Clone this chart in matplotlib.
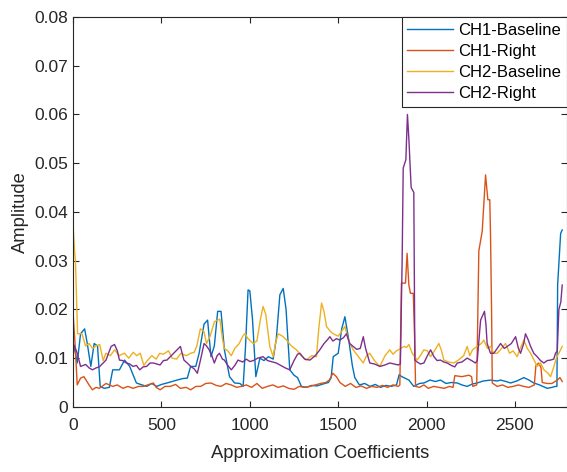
import numpy as np
import matplotlib
matplotlib.use('Agg')
import matplotlib.pyplot as plt

plt.rcParams['font.family'] = ['Liberation Sans', 'DejaVu Sans']

# CH1-Baseline
ch1_base_x = [0, 13, 23, 42, 65, 80, 100, 119, 138, 153, 176, 205, 224, 262, 291, 320, 358, 390, 416, 445,
              473, 500, 531, 560, 588, 620, 646, 665, 694, 713, 741, 761, 780, 799, 818, 837, 856, 885, 914, 944,
              962, 975, 990, 1000, 1015, 1034, 1057, 1080, 1105, 1132, 1150, 1170, 1189, 1205, 1226, 1250, 1270,
              1292, 1320, 1350, 1380, 1415, 1445, 1460, 1472, 1500, 1520, 1538, 1560, 1580, 1594, 1620, 1650,
              1680, 1710, 1740, 1770, 1800, 1830, 1845, 1860, 1872, 1900, 1928, 1960, 1985, 2020, 2050, 2079,
              2110, 2140, 2174, 2200, 2230, 2260, 2287, 2320, 2362, 2400, 2419, 2450, 2476, 2510, 2551, 2580,
              2607, 2640, 2683, 2710, 2730, 2738, 2742, 2759, 2768]
ch1_base_y = [0.013, 0.011, 0.009, 0.015, 0.016, 0.013, 0.0083, 0.013, 0.0125, 0.0042, 0.0038, 0.0040, 0.0076,
              0.0076, 0.0096, 0.0083, 0.0049, 0.0045, 0.0042, 0.0048, 0.0042, 0.0046, 0.0049, 0.0052, 0.0055,
              0.0058, 0.0059, 0.0083, 0.0083, 0.011, 0.017, 0.0178, 0.0103, 0.0125, 0.0196, 0.0196, 0.0117,
              0.0062, 0.0049, 0.0048, 0.0042, 0.012, 0.024, 0.0238, 0.018, 0.0062, 0.0100, 0.0095, 0.0103,
              0.0098, 0.014, 0.023, 0.0243, 0.020, 0.0076, 0.0065, 0.0060, 0.0042, 0.0040, 0.0044, 0.0043,
              0.0047, 0.0050, 0.0060, 0.0103, 0.011, 0.016, 0.0185, 0.0137, 0.0085, 0.0060, 0.0045, 0.0048,
              0.0042, 0.0046, 0.0040, 0.0044, 0.0042, 0.0045, 0.0066, 0.0062, 0.0060, 0.0055, 0.0042, 0.0048,
              0.0049, 0.0055, 0.0052, 0.0055, 0.0048, 0.0050, 0.0049, 0.0045, 0.0042, 0.0047, 0.0049, 0.0053,
              0.0055, 0.0053, 0.0055, 0.0052, 0.0049, 0.0053, 0.0060, 0.0055, 0.0049, 0.0045, 0.0038, 0.0040,
              0.0042, 0.0042, 0.025, 0.0356, 0.0363]

# CH1-Right
ch1_right_x = [0, 13, 23, 42, 61, 90, 109, 130, 148, 186, 224, 250, 282, 310, 339, 370, 397, 430, 454, 470,
               492, 520, 550, 580, 607, 640, 665, 695, 722, 750, 780, 810, 837, 865, 895, 925, 952, 980, 1010,
               1040, 1070, 1100, 1130, 1160, 1190, 1220, 1250, 1280, 1310, 1340, 1370, 1400, 1430, 1450, 1470,
               1490, 1510, 1540, 1570, 1600, 1630, 1660, 1690, 1720, 1750, 1780, 1810, 1840, 1849, 1858, 1881,
               1890, 1900, 1909, 1925, 1932, 1938, 1960, 1985, 2010, 2040, 2070, 2100, 2130, 2150, 2160, 2200,
               2240, 2255, 2262, 2284, 2296, 2315, 2325, 2334, 2347, 2358, 2362, 2368, 2372, 2400, 2430, 2460,
               2490, 2520, 2550, 2580, 2610, 2619, 2635, 2648, 2655, 2683, 2710, 2740, 2755, 2768]
ch1_right_y = [0.019, 0.0117, 0.0045, 0.0059, 0.0062, 0.0045, 0.0035, 0.0040, 0.0038, 0.0048, 0.0042, 0.0045,
               0.0038, 0.0042, 0.0038, 0.0042, 0.0042, 0.0046, 0.0049, 0.0040, 0.0035, 0.0042, 0.0042, 0.0046,
               0.0038, 0.0040, 0.0035, 0.0042, 0.0042, 0.0048, 0.0049, 0.0044, 0.0042, 0.0048, 0.0045, 0.0040,
               0.0042, 0.0045, 0.0040, 0.0048, 0.0038, 0.0042, 0.0045, 0.0040, 0.0043, 0.0038, 0.0036, 0.0042,
               0.0040, 0.0042, 0.0045, 0.0048, 0.0050, 0.0055, 0.0069, 0.0062, 0.0050, 0.0042, 0.0048, 0.0040,
               0.0043, 0.0038, 0.0042, 0.0040, 0.0044, 0.0040, 0.0045, 0.0042, 0.0045, 0.0254, 0.0254, 0.0315,
               0.025, 0.0233, 0.0233, 0.015, 0.0042, 0.0040, 0.0045, 0.0038, 0.0042, 0.0040, 0.0038, 0.0042,
               0.0040, 0.0064, 0.0062, 0.0065, 0.0062, 0.0042, 0.0045, 0.032, 0.036, 0.042, 0.0476, 0.0425,
               0.0425, 0.0356, 0.020, 0.0049, 0.0042, 0.0045, 0.0040, 0.0042, 0.0045, 0.0042, 0.0040, 0.0045,
               0.0085, 0.0090, 0.0080, 0.0050, 0.0048, 0.0048, 0.0055, 0.0060, 0.0052]

# CH2-Baseline
ch2_base_x = [0, 8, 13, 25, 50, 70, 90, 110, 130, 150, 170, 185, 210, 235, 260, 290, 315, 340, 360, 380, 400,
              420, 445, 470, 490, 510, 540, 560, 585, 610, 640, 665, 685, 700, 720, 740, 755, 775, 800, 830, 845,
              855, 875, 895, 915, 940, 960, 972, 990, 1019, 1040, 1060, 1075, 1090, 1113, 1132, 1145, 1160, 1185,
              1208, 1235, 1264, 1290, 1320, 1350, 1377, 1390, 1406, 1420, 1434, 1455, 1472, 1500, 1520, 1538,
              1560, 1585, 1610, 1642, 1660, 1679, 1705, 1736, 1765, 1792, 1810, 1830, 1855, 1872, 1887, 1900,
              1919, 1947, 1965, 1985, 2005, 2023, 2045, 2070, 2085, 2098, 2125, 2155, 2180, 2210, 2230, 2245,
              2260, 2290, 2310, 2324, 2345, 2362, 2380, 2400, 2425, 2447, 2470, 2490, 2513, 2530, 2551, 2570,
              2589, 2610, 2626, 2645, 2664, 2685, 2702, 2721, 2735, 2749, 2768]
ch2_base_y = [0.037, 0.032, 0.030, 0.015, 0.015, 0.0125, 0.013, 0.012, 0.0125, 0.0128, 0.0095, 0.011, 0.0105,
              0.0117, 0.0105, 0.011, 0.0100, 0.0112, 0.0105, 0.0110, 0.0085, 0.0095, 0.0105, 0.0098, 0.011,
              0.0108, 0.0115, 0.0100, 0.0098, 0.011, 0.0105, 0.0110, 0.0112, 0.0125, 0.016, 0.0155, 0.013,
              0.0145, 0.0175, 0.018, 0.014, 0.012, 0.0115, 0.0105, 0.012, 0.013, 0.0145, 0.015, 0.014, 0.013,
              0.0135, 0.018, 0.0206, 0.019, 0.0124, 0.0103, 0.013, 0.015, 0.0145, 0.0137, 0.0125, 0.0117,
              0.0105, 0.0096, 0.0105, 0.0103, 0.016, 0.0213, 0.0195, 0.0165, 0.0155, 0.015, 0.0145, 0.0155,
              0.0165, 0.0135, 0.0117, 0.0105, 0.009, 0.0105, 0.011, 0.0095, 0.0083, 0.0105, 0.0117, 0.0108,
              0.0115, 0.012, 0.0124, 0.0122, 0.0128, 0.011, 0.0096, 0.0105, 0.0117, 0.0115, 0.0103, 0.0115,
              0.013, 0.0115, 0.0096, 0.0092, 0.009, 0.0096, 0.0105, 0.0124, 0.0105, 0.0117, 0.0125, 0.013,
              0.0137, 0.012, 0.0124, 0.011, 0.011, 0.012, 0.013, 0.011, 0.0115, 0.0103, 0.012, 0.0137, 0.012,
              0.011, 0.0095, 0.0083, 0.009, 0.0076, 0.0070, 0.0062, 0.0083, 0.0100, 0.011, 0.0124]

# CH2-Right
ch2_right_x = [0, 13, 23, 42, 71, 90, 109, 130, 148, 170, 186, 200, 215, 234, 250, 262, 280, 301, 320, 339,
               358, 377, 396, 416, 435, 454, 473, 492, 511, 531, 550, 569, 590, 607, 627, 646, 665, 685, 703,
               720, 741, 755, 770, 785, 799, 815, 828, 845, 856, 875, 895, 915, 933, 960, 980, 1000, 1020, 1045,
               1075, 1100, 1130, 1150, 1175, 1200, 1226, 1250, 1270, 1283, 1310, 1340, 1370, 1396, 1420, 1440,
               1453, 1470, 1490, 1509, 1530, 1547, 1565, 1585, 1605, 1625, 1642, 1655, 1679, 1705, 1736, 1765,
               1792, 1815, 1840, 1852, 1862, 1868, 1883, 1892, 1900, 1913, 1928, 1934, 1947, 1965, 1985, 2005,
               2023, 2042, 2060, 2079, 2098, 2117, 2140, 2160, 2174, 2200, 2230, 2255, 2277, 2287, 2306, 2328,
               2336, 2343, 2362, 2381, 2400, 2419, 2440, 2457, 2480, 2504, 2520, 2532, 2550, 2560, 2575, 2589,
               2607, 2626, 2645, 2664, 2683, 2702, 2720, 2730, 2740, 2749, 2760, 2768]
ch2_right_y = [0.013, 0.012, 0.011, 0.0083, 0.0087, 0.0080, 0.0076, 0.0080, 0.0082, 0.0090, 0.0096, 0.011,
               0.0124, 0.0128, 0.0115, 0.0096, 0.0095, 0.0090, 0.0088, 0.0083, 0.0085, 0.0076, 0.0082, 0.0083,
               0.0090, 0.0090, 0.0088, 0.0086, 0.0095, 0.0096, 0.0103, 0.011, 0.0118, 0.0124, 0.0096, 0.0090,
               0.0083, 0.0078, 0.0069, 0.0095, 0.013, 0.0125, 0.0117, 0.0105, 0.0090, 0.0105, 0.011, 0.0098,
               0.0096, 0.0085, 0.0076, 0.0085, 0.0096, 0.0092, 0.0098, 0.0093, 0.0095, 0.0100, 0.0103, 0.0095,
               0.0092, 0.0090, 0.0085, 0.0080, 0.0076, 0.0095, 0.0108, 0.011, 0.0098, 0.0096, 0.0105, 0.0117,
               0.013, 0.0138, 0.0144, 0.0135, 0.014, 0.0137, 0.0142, 0.015, 0.013, 0.0124, 0.0118, 0.012,
               0.0144, 0.012, 0.009, 0.0088, 0.0083, 0.0086, 0.009, 0.0088, 0.0086, 0.0088, 0.030, 0.049,
               0.0507, 0.060, 0.055, 0.045, 0.044, 0.0096, 0.0092, 0.0088, 0.0090, 0.0105, 0.0117, 0.0103,
               0.0095, 0.0096, 0.0092, 0.0090, 0.0085, 0.0082, 0.0090, 0.0092, 0.0100, 0.0095, 0.0090, 0.0095,
               0.0178, 0.0196, 0.017, 0.013, 0.011, 0.011, 0.012, 0.013, 0.012, 0.0124, 0.013, 0.0144, 0.012,
               0.011, 0.013, 0.015, 0.0138, 0.0124, 0.011, 0.0103, 0.0095, 0.0090, 0.0095, 0.0096, 0.0098,
               0.011, 0.0115, 0.020, 0.0215, 0.025]

series = [
    ('CH1-Baseline', ch1_base_x, ch1_base_y, '#0072BD'),
    ('CH1-Right', ch1_right_x, ch1_right_y, '#D95319'),
    ('CH2-Baseline', ch2_base_x, ch2_base_y, '#EDB120'),
    ('CH2-Right', ch2_right_x, ch2_right_y, '#7E2F8E'),
]

fig = plt.figure(figsize=(5.67, 4.72), dpi=100)
ax = fig.add_axes([0.129, 0.138, 0.871, 0.826])

for nome, xs, ys, cor in series:
    ax.plot(np.array(xs), np.array(ys), color=cor, linewidth=1.0, label=nome)

ax.set_xlim(0, 2795)
ax.set_ylim(0, 0.08)
ax.set_xticks([0, 500, 1000, 1500, 2000, 2500])
ax.set_yticks(np.arange(0, 0.081, 0.01))
ax.set_yticklabels(['0', '0.01', '0.02', '0.03', '0.04', '0.05', '0.06', '0.07', '0.08'])
ax.tick_params(direction='in', top=True, right=True, labelsize=12.5, colors='#262626', length=4)
ax.tick_params(axis='x', pad=8)
for s in ax.spines.values():
    s.set_color('#262626')
    s.set_linewidth(0.8)

ax.set_xlabel('Approximation Coefficients', fontsize=13.2, color='#262626', labelpad=9)
ax.set_ylabel('Amplitude', fontsize=13.2, color='#262626')

leg = ax.legend(loc='upper right', fontsize=12, borderaxespad=0, fancybox=False,
                framealpha=1, edgecolor='#262626', handlelength=2.75, handletextpad=0.3,
                labelspacing=0.36, borderpad=0.35)
leg.get_frame().set_linewidth(0.8)

fig.savefig('out.png', dpi=100)
